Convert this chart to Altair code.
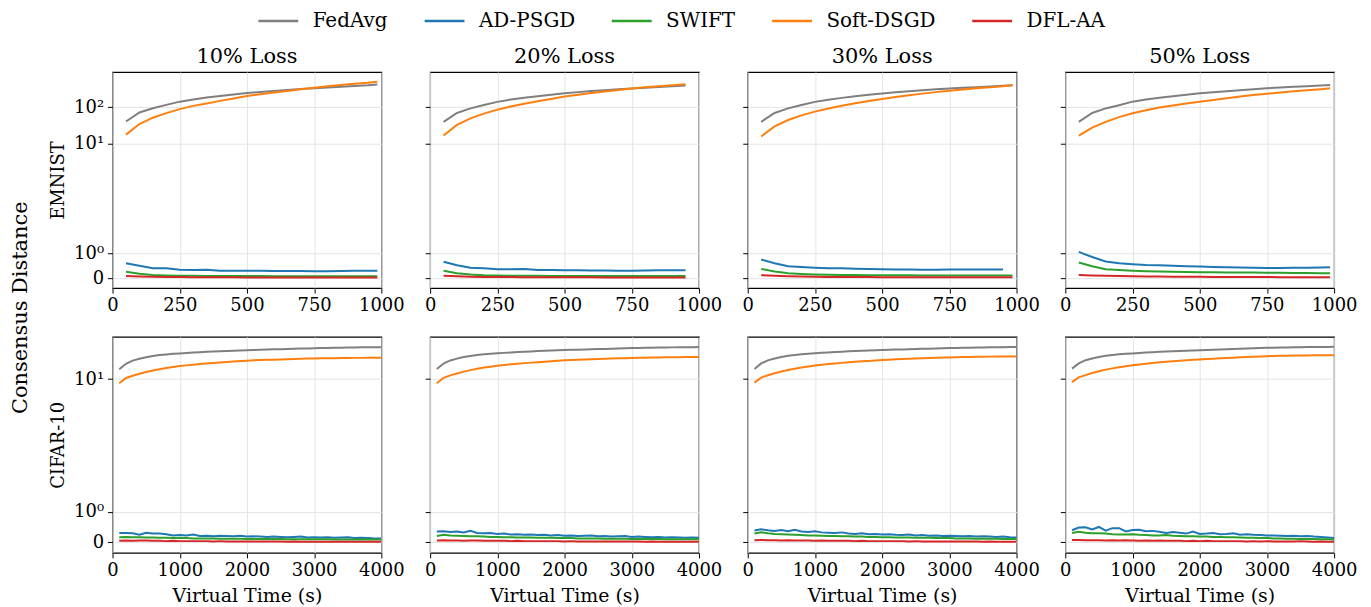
import altair as alt
import pandas as pd

METHODS = ["FedAvg", "AD-PSGD", "SWIFT", "Soft-DSGD", "DFL-AA"]
COLORS = ["#7f7f7f", "#1f77b4", "#2ca02c", "#ff7f0e", "#d62728"]
LOSSES = ["10% Loss", "20% Loss", "30% Loss", "50% Loss"]
DATASETS = ["EMNIST", "CIFAR-10"]

EM_X = [50, 100, 150, 200, 250, 300, 350, 400, 450, 500, 550, 600, 650, 700, 750, 800, 850, 900, 950, 985]
CF_X = [100, 200, 300, 400, 500, 600, 700, 800, 900, 1000, 1100, 1200, 1300, 1400, 1500, 1600, 1700, 1800, 1900, 2000,
        2100, 2200, 2300, 2400, 2500, 2600, 2700, 2800, 2900, 3000, 3100, 3200, 3300, 3400, 3500, 3600, 3700, 3800, 3900, 4000]

EM_XTICKS = [0, 250, 500, 750, 1000]
CF_XTICKS = [0, 1000, 2000, 3000, 4000]

# ---- EMNIST ----
EM10_FEDAVG = [41, 72, 94, 116, 142, 163, 185, 203, 223, 245, 260, 277, 295, 314, 328, 345, 360, 378, 395, 416]
EM10_ADPSGD = [0.60, 0.50, 0.40, 0.40, 0.34, 0.33, 0.34, 0.30, 0.30, 0.30, 0.30, 0.29, 0.29, 0.29, 0.28, 0.28, 0.29, 0.30, 0.30, 0.30]
EM10_SWIFT = [0.26, 0.18, 0.13, 0.11, 0.10, 0.10, 0.09, 0.09, 0.09, 0.09, 0.09, 0.08, 0.08, 0.08, 0.08, 0.08, 0.08, 0.08, 0.08, 0.08]
EM10_SOFT = [18, 35, 52, 69, 89, 109, 127, 149, 174, 203, 226, 253, 277, 308, 340, 372, 403, 434, 465, 495]
EM10_DFLAA = [0.09, 0.07, 0.06, 0.05, 0.05, 0.04, 0.04, 0.04, 0.04, 0.03, 0.03, 0.03, 0.03, 0.03, 0.03, 0.03, 0.03, 0.03, 0.03, 0.03]

EM20_FEDAVG = [40, 70, 93, 115, 140, 162, 182, 200, 220, 240, 258, 275, 292, 310, 325, 342, 358, 375, 392]
EM20_ADPSGD = [0.66, 0.52, 0.42, 0.40, 0.36, 0.36, 0.37, 0.33, 0.33, 0.32, 0.32, 0.31, 0.31, 0.30, 0.30, 0.31, 0.32, 0.32, 0.32]
EM20_SWIFT = [0.30, 0.20, 0.15, 0.12, 0.11, 0.10, 0.10, 0.10, 0.09, 0.09, 0.09, 0.09, 0.09, 0.09, 0.09, 0.09, 0.09, 0.09, 0.09]
EM20_SOFT = [17, 33, 50, 67, 86, 105, 124, 145, 168, 195, 218, 243, 268, 295, 322, 350, 375, 398, 420]
EM20_DFLAA = [0.10, 0.08, 0.06, 0.05, 0.05, 0.05, 0.04, 0.04, 0.04, 0.04, 0.04, 0.04, 0.03, 0.03, 0.03, 0.03, 0.03, 0.03, 0.03]

EM30_FEDAVG = [40, 70, 93, 115, 140, 160, 180, 198, 218, 238, 255, 272, 290, 308, 322, 338, 352, 368, 384, 400]
EM30_ADPSGD = [0.75, 0.60, 0.48, 0.45, 0.42, 0.40, 0.40, 0.38, 0.37, 0.36, 0.35, 0.35, 0.34, 0.34, 0.35, 0.35, 0.35, 0.35, 0.35]
EM30_SWIFT = [0.37, 0.27, 0.20, 0.17, 0.15, 0.14, 0.13, 0.13, 0.12, 0.12, 0.12, 0.12, 0.11, 0.11, 0.11, 0.11, 0.11, 0.11, 0.11, 0.11]
EM30_SOFT = [16, 30, 45, 60, 76, 93, 110, 128, 148, 168, 190, 212, 235, 258, 282, 305, 330, 352, 375, 398]
EM30_DFLAA = [0.12, 0.10, 0.08, 0.07, 0.06, 0.05, 0.05, 0.05, 0.05, 0.04, 0.04, 0.04, 0.04, 0.04, 0.04, 0.04, 0.04, 0.04, 0.04, 0.04]

EM50_FEDAVG = [40, 70, 93, 114, 142, 162, 182, 200, 220, 240, 256, 272, 290, 310, 328, 345, 360, 375, 390, 403]
EM50_ADPSGD = [1.03, 0.85, 0.67, 0.60, 0.56, 0.53, 0.52, 0.50, 0.48, 0.47, 0.45, 0.44, 0.43, 0.42, 0.41, 0.41, 0.42, 0.42, 0.43, 0.44]
EM50_SWIFT = [0.63, 0.48, 0.36, 0.33, 0.30, 0.28, 0.27, 0.26, 0.25, 0.24, 0.24, 0.23, 0.23, 0.23, 0.22, 0.22, 0.21, 0.21, 0.20, 0.20]
EM50_SOFT = [17, 28, 40, 54, 69, 83, 98, 112, 127, 142, 158, 175, 195, 214, 234, 252, 272, 291, 310, 328]
EM50_DFLAA = [0.13, 0.11, 0.10, 0.09, 0.08, 0.07, 0.07, 0.06, 0.06, 0.06, 0.05, 0.05, 0.05, 0.05, 0.05, 0.04, 0.04, 0.04, 0.04, 0.04]

# ---- CIFAR-10 ----
CF10_FEDAVG = [16.6, 22, 26, 28.5, 31, 33, 34.5, 35.8, 36.8, 37.6, 38.5, 39.3, 40.1, 40.9, 41.6, 42.2, 42.8, 43.4, 44, 44.5,
               45, 45.5, 45.9, 46.4, 46.8, 47.3, 47.8, 48.3, 48.8, 49.3, 49.7, 50, 50.3, 50.7, 51.1, 51.3, 51.5, 51.6, 51.8, 51.9]
CF10_ADPSGD = [0.30, 0.30, 0.29, 0.24, 0.31, 0.28, 0.28, 0.26, 0.22, 0.23, 0.22, 0.25, 0.20, 0.21, 0.19, 0.21, 0.20, 0.19, 0.21, 0.18,
               0.19, 0.18, 0.17, 0.18, 0.17, 0.16, 0.17, 0.18, 0.15, 0.16, 0.15, 0.16, 0.14, 0.15, 0.16, 0.13, 0.14, 0.13, 0.12, 0.12]
CF10_SWIFT = [0.16, 0.17, 0.16, 0.16, 0.15, 0.15, 0.14, 0.14, 0.13, 0.13, 0.13, 0.12, 0.12, 0.12, 0.12, 0.11, 0.11, 0.11, 0.11, 0.10,
              0.10, 0.10, 0.10, 0.10, 0.10, 0.09, 0.09, 0.09, 0.09, 0.09, 0.09, 0.09, 0.08, 0.08, 0.08, 0.08, 0.08, 0.08, 0.08, 0.08]
CF10_SOFT = [9.3, 10.6, 11.9, 13.2, 14.4, 15.6, 16.7, 17.8, 18.7, 19.6, 20.3, 21, 21.7, 22.3, 22.9, 23.5, 24.1, 24.7, 25.3, 25.9,
             26.3, 26.7, 27, 27.3, 27.6, 27.9, 28.2, 28.5, 28.8, 29.1, 29.2, 29.4, 29.5, 29.7, 29.8, 29.9, 29.9, 30, 30, 30.1]
CF10_DFLAA = [0.04, 0.05, 0.04, 0.05, 0.05, 0.04, 0.04, 0.03, 0.04, 0.03, 0.03, 0.03, 0.03, 0.03, 0.02, 0.03, 0.02, 0.02, 0.02, 0.02,
              0.02, 0.02, 0.02, 0.02, 0.02, 0.01, 0.02, 0.01, 0.01, 0.01, 0.01, 0.01, 0.01, 0.01, 0.01, 0.01, 0.01, 0.01, 0.01, 0.01]

CF20_FEDAVG = [16.8, 22.3, 26.2, 28.8, 31.2, 33.1, 34.6, 35.9, 36.9, 37.8, 38.7, 39.5, 40.3, 41.1, 41.8, 42.4, 43, 43.6, 44.2, 44.7,
               45.2, 45.7, 46.1, 46.6, 47, 47.5, 48, 48.5, 49, 49.5, 49.9, 50.2, 50.5, 50.9, 51.2, 51.4, 51.6, 51.8, 52, 52.1]
CF20_ADPSGD = [0.35, 0.36, 0.33, 0.35, 0.32, 0.37, 0.30, 0.29, 0.30, 0.27, 0.28, 0.25, 0.26, 0.24, 0.25, 0.23, 0.24, 0.22, 0.23, 0.21,
               0.22, 0.20, 0.21, 0.22, 0.19, 0.20, 0.18, 0.19, 0.20, 0.17, 0.18, 0.17, 0.16, 0.17, 0.15, 0.16, 0.15, 0.14, 0.15, 0.14]
CF20_SWIFT = [0.20, 0.24, 0.22, 0.21, 0.20, 0.19, 0.19, 0.18, 0.17, 0.17, 0.16, 0.16, 0.15, 0.15, 0.15, 0.14, 0.14, 0.14, 0.13, 0.13,
              0.13, 0.12, 0.12, 0.12, 0.12, 0.11, 0.11, 0.11, 0.11, 0.10, 0.10, 0.10, 0.10, 0.10, 0.09, 0.09, 0.09, 0.09, 0.09, 0.09]
CF20_SOFT = [9.3, 10.7, 12.1, 13.4, 14.7, 15.9, 17, 18.1, 19, 19.9, 20.7, 21.4, 22.1, 22.8, 23.4, 24, 24.6, 25.2, 25.8, 26.4,
             26.8, 27.2, 27.6, 28, 28.3, 28.6, 28.9, 29.2, 29.5, 29.8, 30, 30.2, 30.4, 30.6, 30.8, 30.9, 31, 31.1, 31.2, 31.3]
CF20_DFLAA = [0.05, 0.06, 0.05, 0.05, 0.04, 0.05, 0.05, 0.04, 0.04, 0.04, 0.04, 0.03, 0.04, 0.03, 0.03, 0.03, 0.03, 0.03, 0.03, 0.02,
              0.03, 0.02, 0.02, 0.02, 0.02, 0.02, 0.02, 0.02, 0.02, 0.02, 0.02, 0.01, 0.02, 0.01, 0.01, 0.01, 0.01, 0.01, 0.01, 0.01]

CF30_FEDAVG = [16.9, 22.4, 26.3, 28.9, 31.3, 33.2, 34.7, 36, 37, 37.9, 38.8, 39.6, 40.4, 41.2, 41.9, 42.5, 43.1, 43.7, 44.3, 44.8,
               45.3, 45.8, 46.2, 46.7, 47.1, 47.6, 48.1, 48.6, 49.1, 49.6, 50, 50.3, 50.6, 51, 51.3, 51.5, 51.7, 51.9, 52.1, 52.2]
CF30_ADPSGD = [0.38, 0.42, 0.39, 0.37, 0.40, 0.36, 0.41, 0.35, 0.33, 0.36, 0.32, 0.31, 0.30, 0.32, 0.28, 0.27, 0.29, 0.26, 0.27, 0.25,
               0.26, 0.24, 0.23, 0.25, 0.22, 0.23, 0.21, 0.22, 0.20, 0.21, 0.20, 0.19, 0.20, 0.18, 0.19, 0.18, 0.17, 0.18, 0.16, 0.15]
CF30_SWIFT = [0.28, 0.32, 0.29, 0.27, 0.26, 0.25, 0.24, 0.23, 0.22, 0.22, 0.21, 0.20, 0.20, 0.19, 0.19, 0.18, 0.18, 0.17, 0.17, 0.16,
              0.16, 0.15, 0.15, 0.15, 0.14, 0.14, 0.14, 0.13, 0.13, 0.13, 0.12, 0.12, 0.12, 0.11, 0.11, 0.11, 0.11, 0.10, 0.10, 0.10]
CF30_SOFT = [9.4, 10.8, 12.2, 13.5, 14.8, 16, 17.1, 18.2, 19.2, 20.1, 20.9, 21.7, 22.4, 23.1, 23.8, 24.4, 25, 25.6, 26.2, 26.8,
             27.3, 27.8, 28.2, 28.6, 29, 29.4, 29.7, 30, 30.3, 30.6, 30.9, 31.1, 31.3, 31.5, 31.7, 31.9, 32, 32.1, 32.2, 32.3]
CF30_DFLAA = [0.06, 0.07, 0.06, 0.06, 0.05, 0.06, 0.05, 0.05, 0.05, 0.04, 0.05, 0.04, 0.04, 0.04, 0.04, 0.03, 0.04, 0.03, 0.03, 0.03,
              0.03, 0.03, 0.03, 0.02, 0.03, 0.02, 0.02, 0.02, 0.02, 0.02, 0.02, 0.02, 0.02, 0.02, 0.01, 0.02, 0.01, 0.01, 0.01, 0.01]

CF50_FEDAVG = [17.2, 22.5, 26.5, 29, 31.4, 33.3, 34.8, 36, 36.9, 37.6, 38.5, 39.3, 40.1, 40.9, 41.6, 42.2, 42.8, 43.4, 44, 44.5,
               45.1, 45.7, 46.2, 46.8, 47.3, 47.8, 48.3, 48.9, 49.6, 50.3, 50.7, 51, 51.3, 51.6, 51.9, 52.1, 52.3, 52.5, 52.7, 52.9]
CF50_ADPSGD = [0.39, 0.48, 0.49, 0.42, 0.50, 0.38, 0.46, 0.46, 0.35, 0.40, 0.41, 0.36, 0.37, 0.34, 0.30, 0.33, 0.31, 0.28, 0.35, 0.27,
               0.28, 0.30, 0.26, 0.27, 0.29, 0.24, 0.26, 0.24, 0.23, 0.22, 0.22, 0.21, 0.20, 0.21, 0.19, 0.20, 0.18, 0.17, 0.15, 0.13]
CF50_SWIFT = [0.30, 0.34, 0.31, 0.29, 0.29, 0.28, 0.26, 0.25, 0.25, 0.26, 0.24, 0.23, 0.22, 0.22, 0.23, 0.21, 0.20, 0.19, 0.19, 0.18,
              0.18, 0.17, 0.17, 0.16, 0.16, 0.15, 0.14, 0.14, 0.13, 0.13, 0.12, 0.12, 0.11, 0.11, 0.10, 0.10, 0.10, 0.09, 0.09, 0.08]
CF50_SOFT = [9.5, 10.9, 12.3, 13.7, 15, 16.3, 17.4, 18.5, 19.5, 20.4, 21.3, 22.2, 23, 23.8, 24.5, 25.2, 25.9, 26.5, 27.1, 27.6,
             28.2, 28.7, 29.2, 29.7, 30.2, 30.7, 31.1, 31.6, 32.1, 32.7, 33, 33.3, 33.5, 33.7, 33.9, 34, 34.1, 34.2, 34.3, 34.4]
CF50_DFLAA = [0.07, 0.07, 0.06, 0.06, 0.06, 0.05, 0.06, 0.05, 0.06, 0.05, 0.04, 0.05, 0.04, 0.05, 0.04, 0.04, 0.04, 0.03, 0.04, 0.03,
              0.04, 0.03, 0.03, 0.03, 0.03, 0.03, 0.02, 0.03, 0.02, 0.03, 0.02, 0.02, 0.02, 0.02, 0.03, 0.02, 0.01, 0.02, 0.01, 0.01]

PANELS = {
    ("EMNIST", "10% Loss"): [EM10_FEDAVG, EM10_ADPSGD, EM10_SWIFT, EM10_SOFT, EM10_DFLAA],
    ("EMNIST", "20% Loss"): [EM20_FEDAVG, EM20_ADPSGD, EM20_SWIFT, EM20_SOFT, EM20_DFLAA],
    ("EMNIST", "30% Loss"): [EM30_FEDAVG, EM30_ADPSGD, EM30_SWIFT, EM30_SOFT, EM30_DFLAA],
    ("EMNIST", "50% Loss"): [EM50_FEDAVG, EM50_ADPSGD, EM50_SWIFT, EM50_SOFT, EM50_DFLAA],
    ("CIFAR-10", "10% Loss"): [CF10_FEDAVG, CF10_ADPSGD, CF10_SWIFT, CF10_SOFT, CF10_DFLAA],
    ("CIFAR-10", "20% Loss"): [CF20_FEDAVG, CF20_ADPSGD, CF20_SWIFT, CF20_SOFT, CF20_DFLAA],
    ("CIFAR-10", "30% Loss"): [CF30_FEDAVG, CF30_ADPSGD, CF30_SWIFT, CF30_SOFT, CF30_DFLAA],
    ("CIFAR-10", "50% Loss"): [CF50_FEDAVG, CF50_ADPSGD, CF50_SWIFT, CF50_SOFT, CF50_DFLAA],
}

rows = []
for (ds, loss), lists in PANELS.items():
    xs = EM_X if ds == "EMNIST" else CF_X
    for m, ys in zip(METHODS, lists):
        for x, v in zip(xs, ys):
            rows.append({"dataset": ds, "loss": loss, "method": m, "x": x, "v": v})
df = pd.DataFrame(rows)

# symmetric-log-like axis used in the figure (linear below 1, compressed decades above 10)
T_EXPR = ("datum.v <= 1 ? 0.227 * datum.v : (datum.v <= 10 ? 0.227 + log(datum.v) / LN10 "
          ": 1.227 + 0.336 * log(datum.v / 10) / LN10)")
LABEL_EXPR = ("datum.value < 0.1 ? '0' : (datum.value < 0.5 ? '10\u2070' : "
              "(datum.value < 1.4 ? '10\u00b9' : '10\u00b2'))")

FONT = "DejaVu Serif"
W, H = 270, 217

legend = alt.Legend(
    title=None, orient="none", direction="horizontal", legendX=155, legendY=-63,
    symbolType="M-2,0H2", symbolSize=400, symbolStrokeWidth=2.5,
    labelFont=FONT, labelFontSize=20, labelColor="black", labelOffset=23,
    columnPadding=31, padding=0,
)


def panel(ds, loss, ci, ri):
    top = ri == 0
    sub = df[(df["dataset"] == ds) & (df["loss"] == loss)]
    xkw = dict(values=EM_XTICKS if top else CF_XTICKS, labelFlush=False, format="d")
    if not top:
        xkw["title"] = "Virtual Time (s)"
    else:
        xkw["title"] = None
    ykw = dict(values=[0, 0.227, 1.227, 1.563] if top else [0, 0.227, 1.227],
               labels=(ci == 0), labelExpr=LABEL_EXPR)
    if ci == 0:
        ykw["title"] = ds
        ykw["titleFontSize"] = 18
        ykw["titlePadding"] = 6
    else:
        ykw["title"] = None
    ydom = [-0.091, 1.885] if top else [-0.082, 1.545]
    ch = alt.Chart(sub).transform_calculate(t=T_EXPR).mark_line(strokeWidth=2, clip=True).encode(
        x=alt.X("x:Q", scale=alt.Scale(domain=[0, 1000] if top else [0, 4000], nice=False, zero=False),
                axis=alt.Axis(**xkw)),
        y=alt.Y("t:Q", scale=alt.Scale(domain=ydom, nice=False, zero=False), axis=alt.Axis(**ykw)),
        color=alt.Color("method:N", scale=alt.Scale(domain=METHODS, range=COLORS), legend=legend),
        detail="method:N",
    ).properties(width=W, height=H)
    if top:
        ch = ch.properties(title=loss)
    return ch


panels = []
for ri, ds in enumerate(DATASETS):
    for ci, loss in enumerate(LOSSES):
        panels.append(panel(ds, loss, ci, ri))

chart = alt.concat(*panels, columns=4, spacing={"row": 49, "column": 49}, bounds="flush").properties(
    title=alt.TitleParams("Consensus Distance", orient="left", anchor="middle", fontSize=21,
                          font=FONT, fontWeight="normal", color="black", offset=18),
    padding={"left": 2, "top": 0, "right": 5, "bottom": 0},
).configure(font=FONT).configure_view(
    stroke="black", strokeWidth=1.2
).configure_axis(
    labelFont=FONT, labelFontSize=18, labelColor="black", labelPadding=4,
    tickColor="black", tickSize=5, tickWidth=1, domain=False,
    grid=True, gridColor="#e4e4e4", gridWidth=1,
    titleFont=FONT, titleFontSize=19, titleFontWeight="normal", titleColor="black", titlePadding=7,
).configure_title(
    font=FONT, fontSize=21, fontWeight="normal", color="black", offset=5
)

chart.save("out.html", embed_options={"renderer": "svg", "actions": False})
